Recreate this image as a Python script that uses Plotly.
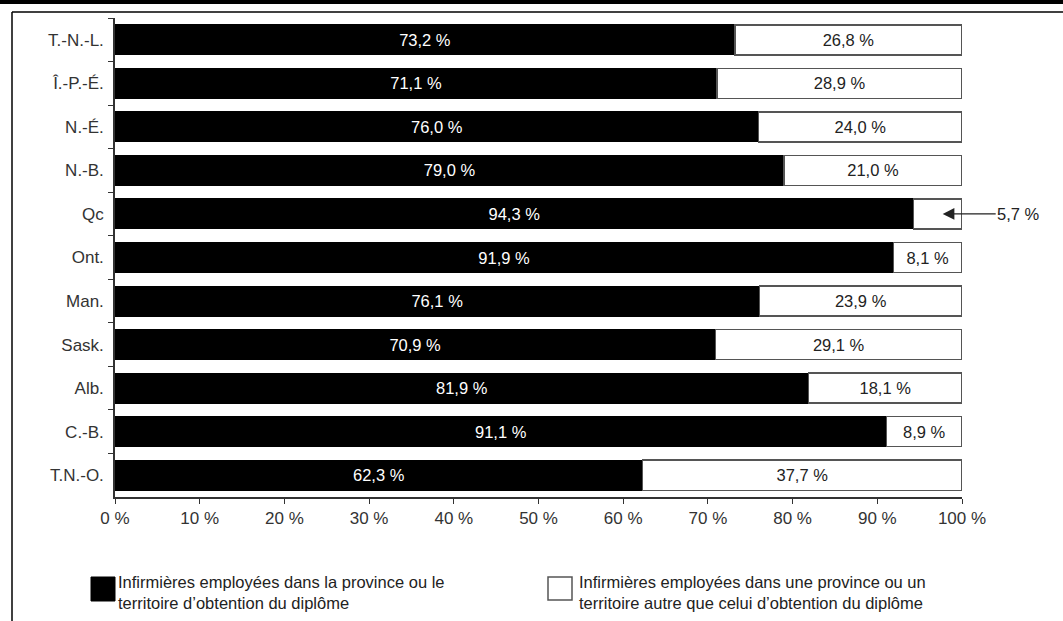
import plotly.graph_objects as go

categories = ["T.-N.-L.", "Î.-P.-É.", "N.-É.", "N.-B.", "Qc", "Ont.", "Man.",
              "Sask.", "Alb.", "C.-B.", "T.N.-O."]
same_prov = [73.2, 71.1, 76.0, 79.0, 94.3, 91.9, 76.1, 70.9, 81.9, 91.1, 62.3]
other_prov = [26.8, 28.9, 24.0, 21.0, 5.7, 8.1, 23.9, 29.1, 18.1, 8.9, 37.7]
tick_vals = [0, 10, 20, 30, 40, 50, 60, 70, 80, 90, 100]
tick_text = [f"{v} %" for v in tick_vals]
legend_names = ["Infirmières employées dans la province ou le<br>territoire d’obtention du diplôme",
                "Infirmières employées dans une province ou un<br>territoire autre que celui d’obtention du diplôme"]

FONT = "Liberation Sans, Arial, sans-serif"


def fmt(v):
    return f"{v:.1f}".replace(".", ",") + " %"


fig = go.Figure()
fig.add_trace(go.Bar(
    y=categories, x=same_prov, orientation="h",
    marker=dict(color="black", line=dict(color="black", width=1)),
    text=[fmt(v) for v in same_prov], textposition="inside",
    insidetextanchor="middle", textangle=0,
    textfont=dict(color="white", size=16.5, family=FONT),
    showlegend=False, hoverinfo="skip"))
fig.add_trace(go.Bar(
    y=categories, x=other_prov, orientation="h",
    marker=dict(color="white", line=dict(color="#555555", width=1.5)),
    text=[fmt(v) if v >= 7 else "" for v in other_prov], textposition="inside",
    insidetextanchor="middle", textangle=0,
    textfont=dict(color="#222222", size=16.5, family=FONT),
    showlegend=False, hoverinfo="skip"))

# outside label with arrow for the small segment
for cat, a, b in zip(categories, same_prov, other_prov):
    if b < 7:
        fig.add_annotation(x=a + b * 0.6, y=cat, xref="x", yref="y",
                           text=fmt(b), showarrow=True, ax=76, ay=0,
                           arrowhead=2, arrowsize=1.8, arrowwidth=1.3,
                           arrowcolor="#222222", standoff=0,
                           font=dict(size=16.5, color="#222222", family=FONT))

W, H = 1063, 621
L, R, T, B = 115, 962, 18, 497


def px(x):
    return (x - L) / (R - L)


def py(y):
    return (B - y) / (B - T)


shapes = [
    dict(type="line", xref="paper", yref="paper", x0=px(0), x1=px(W), y0=py(2), y1=py(2),
         line=dict(color="black", width=4), layer="above"),
    dict(type="line", xref="paper", yref="paper", x0=px(12), x1=px(W), y0=py(12), y1=py(12),
         line=dict(color="black", width=1.5)),
    dict(type="line", xref="paper", yref="paper", x0=px(12), x1=px(12), y0=py(12), y1=py(H),
         line=dict(color="black", width=1.5)),
    dict(type="rect", xref="paper", yref="paper", x0=px(91), x1=px(115), y0=py(601), y1=py(577),
         fillcolor="black", line=dict(color="black", width=1)),
    dict(type="rect", xref="paper", yref="paper", x0=px(548), x1=px(572), y0=py(600), y1=py(577),
         fillcolor="white", line=dict(color="#555555", width=1.5)),
]
fig.add_annotation(xref="paper", yref="paper", x=px(116), y=py(592), xanchor="left",
                   yanchor="middle", align="left", showarrow=False, text=legend_names[0],
                   font=dict(size=16.5, color="#222222", family=FONT))
fig.add_annotation(xref="paper", yref="paper", x=px(577), y=py(592), xanchor="left",
                   yanchor="middle", align="left", showarrow=False, text=legend_names[1],
                   font=dict(size=16.5, color="#222222", family=FONT))

fig.update_layout(
    width=W, height=H, barmode="stack", bargap=0.31,
    margin=dict(l=L, r=W - R, t=T, b=H - B, pad=0),
    paper_bgcolor="white", plot_bgcolor="white",
    font=dict(family=FONT, size=17, color="#333333"),
    shapes=shapes,
    uniformtext=dict(mode="show", minsize=10),
)
fig.update_xaxes(range=[0, 100], tickvals=tick_vals, ticktext=tick_text,
                 showgrid=False, zeroline=False, showline=True, linecolor="#333333",
                 linewidth=1.5, ticks="outside", ticklen=5, tickcolor="#333333",
                 tickfont=dict(size=17, color="#333333"), fixedrange=True)
fig.update_yaxes(autorange="reversed", showgrid=False, showline=True,
                 linecolor="#333333", linewidth=1.5, ticks="outside", ticklen=5,
                 tickson="boundaries", tickcolor="#333333",
                 tickfont=dict(size=17, color="#333333"), ticklabelstandoff=6)

fig.write_html("out.html", config={"displayModeBar": False},
               post_script="document.body.style.margin='0';document.body.style.padding='0';")
